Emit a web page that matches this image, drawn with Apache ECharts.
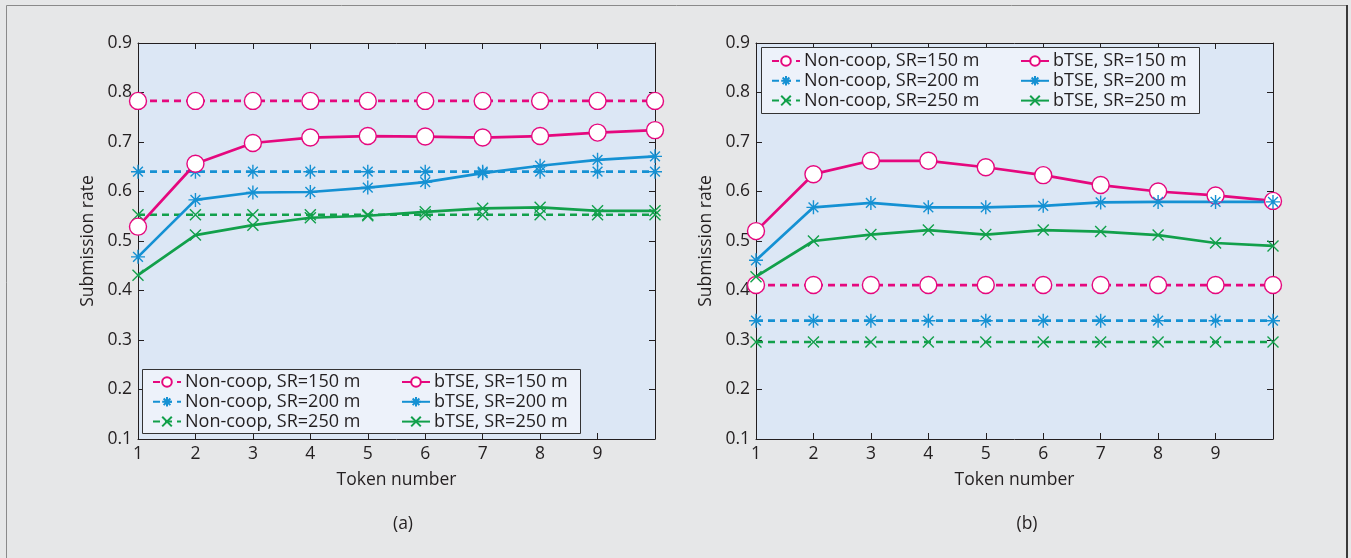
<!DOCTYPE html>
<html>
<head>
<meta charset="utf-8">
<script src="https://cdn.jsdelivr.net/npm/echarts@6/dist/echarts.min.js"></script>
<style>html,body{margin:0;padding:0;background:#e6e7e8;}#c{width:1351px;height:558px;}</style>
</head>
<body>
<div id="c"></div>
<script>
// ---------- data ----------
const tokens = [1, 2, 3, 4, 5, 6, 7, 8, 9, 10];
const xTickLabels = ['1', '2', '3', '4', '5', '6', '7', '8', '9', ''];
const yTicks = [0.1, 0.2, 0.3, 0.4, 0.5, 0.6, 0.7, 0.8, 0.9];
const seriesNames = ['Non-coop, SR=150 m', 'Non-coop, SR=200 m', 'Non-coop, SR=250 m',
                     'bTSE, SR=150 m', 'bTSE, SR=200 m', 'bTSE, SR=250 m'];
const panelLabels = ['(a)', '(b)'];
const axisNameX = 'Token number';
const axisNameY = 'Submission rate';

// panel (a)
const aNoncoop150 = [0.783, 0.783, 0.783, 0.783, 0.783, 0.783, 0.783, 0.783, 0.783, 0.783];
const aNoncoop200 = [0.640, 0.640, 0.640, 0.640, 0.640, 0.640, 0.640, 0.640, 0.640, 0.640];
const aNoncoop250 = [0.553, 0.553, 0.553, 0.553, 0.553, 0.553, 0.553, 0.553, 0.553, 0.553];
const aBtse150 = [0.529, 0.656, 0.698, 0.709, 0.712, 0.711, 0.709, 0.712, 0.719, 0.724];
const aBtse200 = [0.468, 0.583, 0.598, 0.599, 0.608, 0.619, 0.637, 0.652, 0.664, 0.671];
const aBtse250 = [0.431, 0.512, 0.532, 0.547, 0.551, 0.559, 0.566, 0.568, 0.561, 0.561];

// panel (b)
const bNoncoop150 = [0.411, 0.411, 0.411, 0.411, 0.411, 0.411, 0.411, 0.411, 0.411, 0.411];
const bNoncoop200 = [0.339, 0.339, 0.339, 0.339, 0.339, 0.339, 0.339, 0.339, 0.339, 0.339];
const bNoncoop250 = [0.296, 0.296, 0.296, 0.296, 0.296, 0.296, 0.296, 0.296, 0.296, 0.296];
const bBtse150 = [0.520, 0.635, 0.662, 0.662, 0.649, 0.633, 0.613, 0.600, 0.592, 0.581];
const bBtse200 = [0.461, 0.568, 0.577, 0.568, 0.568, 0.571, 0.578, 0.579, 0.579, 0.579];
const bBtse250 = [0.428, 0.500, 0.513, 0.522, 0.513, 0.522, 0.519, 0.512, 0.496, 0.490];

// ---------- style ----------
const FONT = '"Open Sans", "Noto Sans", sans-serif';
const TXT = '#231f20';
const PINK = '#e5087e';
const BLUE = '#1591d3';
const GREEN = '#12a04b';
const PLOT_BG = '#dce7f5';
const LEG_BG = '#edf2fa';
const STAR = 'path://M10,0L10,20M0,10L20,10M3,3L17,17M17,3L3,17';
const CROSS = 'path://M0,0L20,20M20,0L0,20';

const markers = [
  {symbol: 'circle', size: 17, color: PINK, fill: '#ffffff'},
  {symbol: STAR, size: 14, color: BLUE, fill: BLUE},
  {symbol: CROSS, size: 11, color: GREEN, fill: GREEN}
];

function mk(name, vals, gi, mIdx, dashed) {
  const m = markers[mIdx];
  return {
    type: 'line', name: name, xAxisIndex: gi, yAxisIndex: gi,
    data: tokens.map((t, i) => [t, vals[i]]),
    symbol: m.symbol, symbolSize: m.size, showSymbol: true,
    itemStyle: {color: m.fill, borderColor: m.color, borderWidth: 1.4},
    lineStyle: {color: m.color, width: 2.7, type: dashed ? [7, 5] : 'solid'},
    emphasis: {disabled: true}, animation: false, z: dashed ? 2 : 3
  };
}

const grids = [
  {left: 138, right: 696, top: 43, bottom: 119},
  {left: 756, right: 78, top: 43, bottom: 119}
];

function xAx(gi, top) {
  return {
    type: 'value', gridIndex: gi, min: 1, max: 10, interval: 1, position: top ? 'top' : 'bottom',
    axisLine: {show: true, onZero: false, lineStyle: {color: TXT, width: 1}},
    axisTick: {show: true, inside: true, length: 6, lineStyle: {color: TXT}},
    axisLabel: {show: !top, margin: 6, color: TXT, fontSize: 17.5, fontFamily: FONT,
      formatter: v => xTickLabels[tokens.indexOf(Math.round(v))] || ''},
    splitLine: {show: false},
    name: top ? '' : axisNameX, nameLocation: 'middle', nameGap: 32,
    nameTextStyle: {color: TXT, fontSize: 17.5, fontFamily: FONT}
  };
}
function yAx(gi, right) {
  return {
    type: 'value', gridIndex: gi, min: 0.1, max: 0.9, interval: 0.1, position: right ? 'right' : 'left',
    axisLine: {show: true, onZero: false, lineStyle: {color: TXT, width: 1}},
    axisTick: {show: true, inside: true, length: 6, lineStyle: {color: TXT}},
    axisLabel: {show: !right, margin: 6, color: TXT, fontSize: 17.5, fontFamily: FONT,
      formatter: v => {
        const k = yTicks.findIndex(t => Math.abs(t - v) < 1e-6);
        return k >= 0 ? yTicks[k].toFixed(1) : '';
      }},
    splitLine: {show: false},
    name: right ? '' : axisNameY, nameLocation: 'middle', nameGap: 41, nameRotate: 90,
    nameTextStyle: {color: TXT, fontSize: 17.5, fontFamily: FONT}
  };
}

function leg(names, left, top) {
  return {
    data: names, left: left, top: top, orient: 'vertical', padding: 0,
    itemWidth: 28, itemHeight: 12, itemGap: 1.8, selectedMode: false,
    textStyle: {color: TXT, fontSize: 18, fontFamily: FONT, lineHeight: 17, padding: [0, 0, 0, -1]}
  };
}

const series = [
  mk(seriesNames[0], aNoncoop150, 0, 0, true),
  mk(seriesNames[1], aNoncoop200, 0, 1, true),
  mk(seriesNames[2], aNoncoop250, 0, 2, true),
  mk(seriesNames[3], aBtse150, 0, 0, false),
  mk(seriesNames[4], aBtse200, 0, 1, false),
  mk(seriesNames[5], aBtse250, 0, 2, false),
  mk(seriesNames[0], bNoncoop150, 1, 0, true),
  mk(seriesNames[1], bNoncoop200, 1, 1, true),
  mk(seriesNames[2], bNoncoop250, 1, 2, true),
  mk(seriesNames[3], bBtse150, 1, 0, false),
  mk(seriesNames[4], bBtse200, 1, 1, false),
  mk(seriesNames[5], bBtse250, 1, 2, false)
];

const option = {
  backgroundColor: '#e6e7e8',
  animation: false,
  textStyle: {fontFamily: FONT},
  graphic: [
    {type: 'rect', z: -10, silent: true, shape: {x: 6.5, y: 5.5, width: 1340, height: 620},
     style: {fill: '#e6e7e8', stroke: '#8a8a8a', lineWidth: 1}},
    {type: 'line', z: -9, silent: true, shape: {x1: 1347, y1: 5, x2: 1347, y2: 558},
     style: {stroke: '#3a3a3a', lineWidth: 2}},
    {type: 'rect', z: 0, silent: true, shape: {x: 138, y: 43, width: 517, height: 396},
     style: {fill: PLOT_BG}},
    {type: 'rect', z: 0, silent: true, shape: {x: 756, y: 43, width: 517, height: 396},
     style: {fill: PLOT_BG}},
    {type: 'rect', z: 4, silent: true, shape: {x: 142.5, y: 369.5, width: 438, height: 64},
     style: {fill: LEG_BG, stroke: '#333333', lineWidth: 1}},
    {type: 'rect', z: 4, silent: true, shape: {x: 761.5, y: 47.5, width: 438, height: 66},
     style: {fill: LEG_BG, stroke: '#333333', lineWidth: 1}}
  ],
  title: [
    {text: panelLabels[0], left: 398, top: 510, textAlign: 'center',
     textStyle: {color: TXT, fontSize: 17.5, fontWeight: 'normal', fontFamily: FONT}},
    {text: panelLabels[1], left: 1022, top: 510, textAlign: 'center',
     textStyle: {color: TXT, fontSize: 17.5, fontWeight: 'normal', fontFamily: FONT}}
  ],
  legend: [
    leg(seriesNames.slice(0, 3), 152, 373),
    leg(seriesNames.slice(3, 6), 401, 373),
    leg(seriesNames.slice(0, 3), 771, 52),
    leg(seriesNames.slice(3, 6), 1020, 52)
  ].map(l => Object.assign(l, {z: 5})),
  grid: grids,
  xAxis: [xAx(0, false), xAx(1, false), xAx(0, true), xAx(1, true)],
  yAxis: [yAx(0, false), yAx(1, false), yAx(0, true), yAx(1, true)],
  series: series
};

const chart = echarts.init(document.getElementById('c'), null, {renderer: 'canvas'});
chart.setOption(option);
</script>
</body>
</html>
